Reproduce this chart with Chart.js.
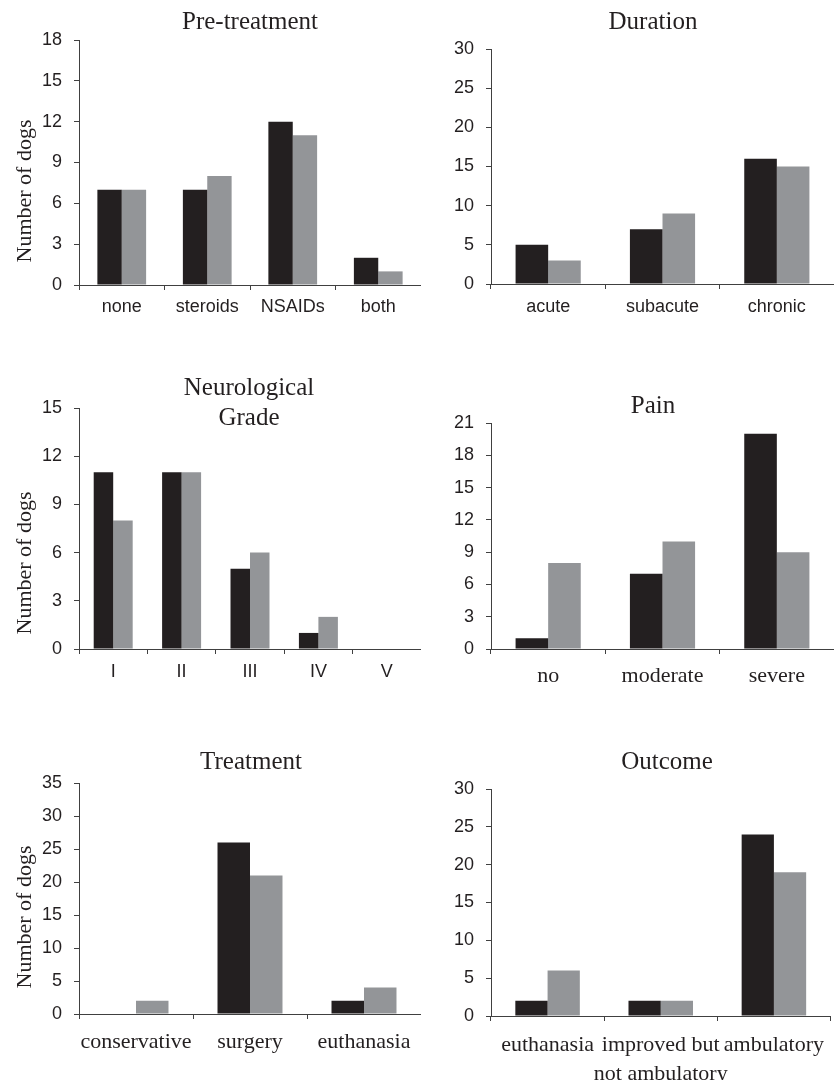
<!DOCTYPE html>
<html>
<head>
<meta charset="utf-8">
<title>Dogs by category</title>
<script src="https://cdn.jsdelivr.net/npm/chart.js@4.4.1/dist/chart.umd.min.js"></script>
<style>
  body { margin: 0; background: #fff; }
  #wrap { position: relative; width: 834px; height: 1080px; overflow: hidden; }
  .panel { position: absolute; }
</style>
</head>
<body>
<div id="wrap">
  <div class="panel" style="left:0;top:0;width:421px;height:345px"><canvas id="c-pre"></canvas></div>
  <div class="panel" style="left:412px;top:0;width:422px;height:344px"><canvas id="c-dur"></canvas></div>
  <div class="panel" style="left:0;top:340px;width:421px;height:369px"><canvas id="c-neuro"></canvas></div>
  <div class="panel" style="left:412px;top:340px;width:422px;height:369px"><canvas id="c-pain"></canvas></div>
  <div class="panel" style="left:0;top:720px;width:421px;height:355px"><canvas id="c-treat"></canvas></div>
  <div class="panel" style="left:412px;top:720px;width:422px;height:360px"><canvas id="c-out"></canvas></div>
</div>
<script>
// === Data ===
const preCats = ["none", "steroids", "NSAIDs", "both"];
const preBlack = [7, 7, 12, 2];
const preGrey = [7, 8, 11, 1];

const durCats = ["acute", "subacute", "chronic"];
const durBlack = [5, 7, 16];
const durGrey = [3, 9, 15];

const neuroCats = ["I", "II", "III", "IV", "V"];
const neuroBlack = [11, 11, 5, 1, 0];
const neuroGrey = [8, 11, 6, 2, 0];

const painCats = ["no", "moderate", "severe"];
const painBlack = [1, 7, 20];
const painGrey = [8, 10, 9];

const treatCats = ["conservative", "surgery", "euthanasia"];
const treatBlack = [0, 26, 2];
const treatGrey = [2, 21, 4];

const outCats = ["euthanasia", ["improved but", "not ambulatory"], "ambulatory"];
const outBlack = [2, 2, 24];
const outGrey = [6, 2, 19];

// === Style ===
const BLACK = "#231f20";
const GREY = "#939598";
const AXIS = "#404040";
const SANS = "'Liberation Sans', Arial, sans-serif";
const SERIF = "'Liberation Serif', 'Times New Roman', serif";

// Panel titles and the y-axis title, drawn on the canvas
const panelText = {
  id: "panelText",
  afterDraw(chart, args, opts) {
    const ctx = chart.ctx;
    ctx.save();
    ctx.fillStyle = BLACK;
    ctx.textAlign = "center";
    ctx.textBaseline = "alphabetic";
    ctx.font = `25px ${SERIF}`;
    opts.title.forEach((line, i) => ctx.fillText(line, opts.titleX, opts.titleY + i * 30));
    if (opts.yTitle) {
      ctx.translate(opts.yTitleX, opts.yTitleY);
      ctx.rotate(-Math.PI / 2);
      ctx.font = `22px ${SERIF}`;
      ctx.textBaseline = "middle";
      ctx.fillText(opts.yTitle, 0, 0);
    }
    ctx.restore();
  }
};

function makeChart(id, p) {
  new Chart(document.getElementById(id), {
    type: "bar",
    data: {
      labels: p.labels,
      datasets: [
        { data: p.black, backgroundColor: BLACK, borderWidth: 0 },
        { data: p.grey, backgroundColor: GREY, borderWidth: 0 },
      ]
    },
    options: {
      responsive: true,
      maintainAspectRatio: false,
      animation: false,
      layout: { padding: { top: p.padTop, left: 0, right: 0, bottom: 0 } },
      datasets: { bar: { categoryPercentage: 0.57, barPercentage: 1 } },
      plugins: {
        legend: { display: false },
        tooltip: { enabled: false },
        panelText: {
          title: p.title, titleX: p.titleX, titleY: p.titleY,
          yTitle: p.yTitle, yTitleX: 25, yTitleY: p.yTitleY,
        },
      },
      scales: {
        x: {
          offset: true,
          grid: { display: true, offset: true, drawOnChartArea: false, color: AXIS, tickLength: 5 },
          border: { color: AXIS, width: 1 },
          ticks: {
            color: BLACK, padding: p.xPad, maxRotation: 0, autoSkip: false,
            font: { family: p.serifX ? SERIF : SANS, size: p.serifX ? 22 : 18, lineHeight: p.lineH || 1.2 },
          },
          afterFit: (s) => { s.height = p.xH || 60; },
        },
        y: {
          min: 0,
          max: p.max,
          ticks: { stepSize: p.step, color: BLACK, padding: 12, font: { family: SANS, size: 18 } },
          grid: { drawOnChartArea: false, color: AXIS, tickLength: 5 },
          border: { color: AXIS, width: 1 },
          afterFit: (s) => { s.width = 79; },
        }
      }
    },
    plugins: [panelText]
  });
}

// === Build panels ===
makeChart("c-pre", {
  labels: preCats, black: preBlack, grey: preGrey, max: 18, step: 3,
  padTop: 40, xPad: 6, title: ["Pre-treatment"], titleX: 250, titleY: 29,
  yTitle: "Number of dogs", yTitleY: 191,
});
makeChart("c-dur", {
  labels: durCats, black: durBlack, grey: durGrey, max: 30, step: 5,
  padTop: 49, xPad: 7, title: ["Duration"], titleX: 241, titleY: 29,
});
makeChart("c-neuro", {
  labels: neuroCats, black: neuroBlack, grey: neuroGrey, max: 15, step: 3,
  padTop: 68, xPad: 7, title: ["Neurological", "Grade"], titleX: 249, titleY: 55,
  yTitle: "Number of dogs", yTitleY: 223,
});
makeChart("c-pain", {
  labels: painCats, black: painBlack, grey: painGrey, max: 21, step: 3,
  padTop: 83, xPad: 9, serifX: true, title: ["Pain"], titleX: 241, titleY: 73,
});
makeChart("c-treat", {
  labels: treatCats, black: treatBlack, grey: treatGrey, max: 35, step: 5,
  padTop: 63, xPad: 10, xH: 61, serifX: true, title: ["Treatment"], titleX: 251, titleY: 49,
  yTitle: "Number of dogs", yTitleY: 197,
});
makeChart("c-out", {
  labels: outCats, black: outBlack, grey: outGrey, max: 30, step: 5,
  padTop: 69, xPad: 10, xH: 64, lineH: 1.3, serifX: true, title: ["Outcome"], titleX: 255, titleY: 49,
});
</script>
</body>
</html>
